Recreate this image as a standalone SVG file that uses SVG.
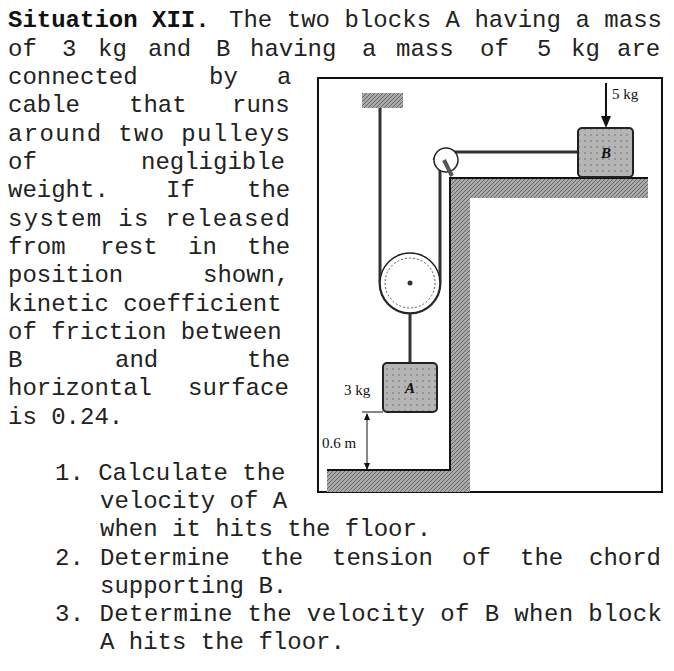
<svg xmlns="http://www.w3.org/2000/svg" width="674" height="671" viewBox="0 0 674 671">
<style>
.t{font-family:"Liberation Mono","Courier New",monospace;font-size:24px;fill:#222}
.b{font-weight:bold;fill:#111}
.f{font-family:"Liberation Serif","Times New Roman",serif;font-size:15px;fill:#111}
.rope{stroke:#333;stroke-width:3;fill:none}
</style>
<defs>
<pattern id="h" width="4" height="4" patternUnits="userSpaceOnUse">
<rect width="4" height="4" fill="#aaa"/><path d="M0,4L4,0" stroke="#666" stroke-width="1"/>
</pattern>
<pattern id="g" width="6" height="6" patternUnits="userSpaceOnUse">
<rect width="6" height="6" fill="#b5b5b5"/><circle cx="3" cy="3" r="1" fill="#888"/>
</pattern>
</defs>
<rect width="674" height="671" fill="#fff"/>
<g id="text">
<text class="t b" x="8" y="27">Situation XII.</text>
<text class="t" x="229" y="27" textLength="433" lengthAdjust="spacing">The two blocks A having a mass</text>
<text class="t" y="56"><tspan x="8">of</tspan><tspan x="62">3</tspan><tspan x="98">kg</tspan><tspan x="148">and</tspan><tspan x="216">B</tspan><tspan x="250">having</tspan><tspan x="362">a</tspan><tspan x="396">mass</tspan><tspan x="480">of</tspan><tspan x="537">5</tspan><tspan x="571">kg</tspan><tspan x="617">are</tspan></text>
<text class="t" y="84"><tspan x="8">connected</tspan><tspan x="209">by</tspan><tspan x="277">a</tspan></text>
<text class="t" y="112"><tspan x="8">cable</tspan><tspan x="129">that</tspan><tspan x="232">runs</tspan></text>
<text class="t" x="8" y="141" textLength="282" lengthAdjust="spacing">around two pulleys</text>
<text class="t" y="169"><tspan x="8">of</tspan><tspan x="141">negligible</tspan></text>
<text class="t" y="197"><tspan x="8">weight.</tspan><tspan x="166">If</tspan><tspan x="247">the</tspan></text>
<text class="t" x="8" y="226" textLength="282" lengthAdjust="spacing">system is released</text>
<text class="t" y="254"><tspan x="8">from</tspan><tspan x="100">rest</tspan><tspan x="188">in</tspan><tspan x="247">the</tspan></text>
<text class="t" y="282"><tspan x="8">position</tspan><tspan x="203">shown,</tspan></text>
<text class="t" x="8" y="311">kinetic coefficient</text>
<text class="t" x="8" y="339">of friction between</text>
<text class="t" y="367"><tspan x="8">B</tspan><tspan x="115">and</tspan><tspan x="247">the</tspan></text>
<text class="t" y="395"><tspan x="8">horizontal</tspan><tspan x="188">surface</tspan></text>
<text class="t" x="8" y="424">is 0.24.</text>
<text class="t" x="55" y="480">1. Calculate the</text>
<text class="t" x="100" y="508">velocity of A</text>
<text class="t" x="100" y="536">when it hits the floor.</text>
<text class="t" y="565"><tspan x="55">2.</tspan><tspan x="100">Determine</tspan><tspan x="260">the</tspan><tspan x="332">tension</tspan><tspan x="462">of</tspan><tspan x="520">the</tspan><tspan x="589">chord</tspan></text>
<text class="t" x="100" y="593">supporting B.</text>
<text class="t" x="55" y="621" textLength="607" lengthAdjust="spacing">3. Determine the velocity of B when block</text>
<text class="t" x="100" y="649">A hits the floor.</text>
</g>
<g id="figure">
<rect x="318" y="78" width="344" height="414" fill="#fff" stroke="#111" stroke-width="2"/>
<g id="ground">
<path d="M327,470H450V178H648V198H470V492H327Z" fill="url(#h)"/>
<path d="M327,470H450V178H648" fill="none" stroke="#111" stroke-width="2"/>
</g>
<rect id="ceiling" x="362" y="93" width="41" height="15" fill="url(#h)"/>
<g id="connectors">
<path class="rope" d="M380,108V283 A30,30 0 0 0 440,283 V160"/>
<path class="rope" d="M434,160 A12,12 0 0 1 446,152 H578"/>
<path class="rope" d="M410,283V363"/>
</g>
<g id="pulley-lower">
<circle cx="410" cy="283" r="30" fill="#fff" stroke="#222" stroke-width="1.5"/>
<circle cx="410" cy="283" r="25" fill="none" stroke="#555" stroke-dasharray="2 2"/>
<circle cx="410" cy="283" r="2.5" fill="#333"/>
</g>
<g id="pulley-upper">
<circle cx="446" cy="160" r="12" fill="#fff" stroke="#222" stroke-width="1.5"/>
<path d="M444,160L452,176" stroke="#555" stroke-width="4"/>
</g>
<g id="blockA">
<rect x="383" y="363" width="54" height="49" rx="4" fill="url(#g)" stroke="#222" stroke-width="2"/>
<text class="f" x="410" y="393" text-anchor="middle" font-style="italic" font-weight="bold">A</text>
</g>
<g id="blockB">
<rect x="578" y="128" width="55" height="49" rx="4" fill="url(#g)" stroke="#222" stroke-width="2"/>
<text class="f" x="606" y="158" text-anchor="middle" font-style="italic" font-weight="bold">B</text>
</g>
<path d="M606,83V120" stroke="#111" stroke-width="2"/>
<path d="M601,116L606,128L611,116Z" fill="#111"/>
<text class="f" x="612" y="99">5 kg</text>
<text class="f" x="344" y="395">3 kg</text>
<path d="M362,412H383M367,414V470" stroke="#111" stroke-width="1"/>
<path d="M364,420L367,413L370,420ZM364,463L367,470L370,463Z" fill="#111"/>
<text class="f" x="322" y="448">0.6 m</text>
</g>
</svg>
